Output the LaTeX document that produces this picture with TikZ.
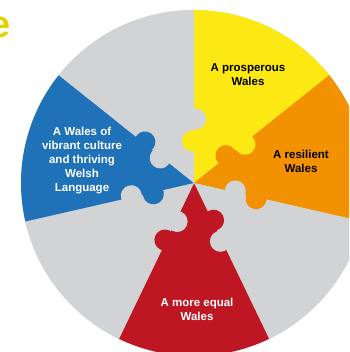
\documentclass[tikz,border=0pt]{standalone}
\usepackage{fontspec}
\setmainfont{Liberation Sans}
\definecolor{wgray}{RGB}{209,211,212}
\definecolor{wyellow}{RGB}{252,232,18}
\definecolor{worange}{RGB}{243,146,0}
\definecolor{wred}{RGB}{190,22,34}
\definecolor{wblue}{RGB}{31,113,184}
\definecolor{wtitle}{RGB}{226,211,0}
\begin{document}
\begin{tikzpicture}[x=1pt,y=1pt,
  lbl/.style={font=\bfseries\fontsize{11.5}{14}\selectfont, align=center, inner sep=0pt}]
\useasboundingbox (0,0) rectangle (349,352);
\clip (0,0) rectangle (349,352);
\coordinate (O) at (194,169);
\fill[wgray] (O) circle (173);
\foreach \c [count=\k from 0] in {wyellow,worange,wgray,wred,wgray,wblue,wgray} {
  \fill[\c] (O) -- ++({90-\k*360/7}:173) arc ({90-\k*360/7}:{90-(\k+1)*360/7}:173) -- cycle;
}
\foreach \k/\cw/\ccw in {0/wyellow/wgray, 1/worange/wyellow, 2/wgray/worange, 3/wred/wgray, 4/wgray/wred, 5/wblue/wgray, 6/wgray/wblue} {
  \begin{scope}[shift={(O)}, rotate={90-\k*360/7}]
    \fill[\cw] (42,1.5) circle (10.5);
    \fill[\ccw] (64,-1.5) circle (10.5);
  \end{scope}
}
\node[lbl, text=black] (prosp) at (248,277) {A prosperous\\Wales};
\node[lbl, text=black] (resil) at (301,191) {A resilient\\Wales};
\node[lbl, text=white] (cult) at (82,191) {A Wales of\\vibrant culture\\and thriving\\Welsh\\Language};
\node[lbl, text=white] (equal) at (197,43) {A more equal\\Wales};
\node[anchor=base east, inner sep=0pt, text=wtitle, font=\bfseries\fontsize{38}{40}\selectfont] (title) at (11,314) {e};
\end{tikzpicture}
\end{document}
